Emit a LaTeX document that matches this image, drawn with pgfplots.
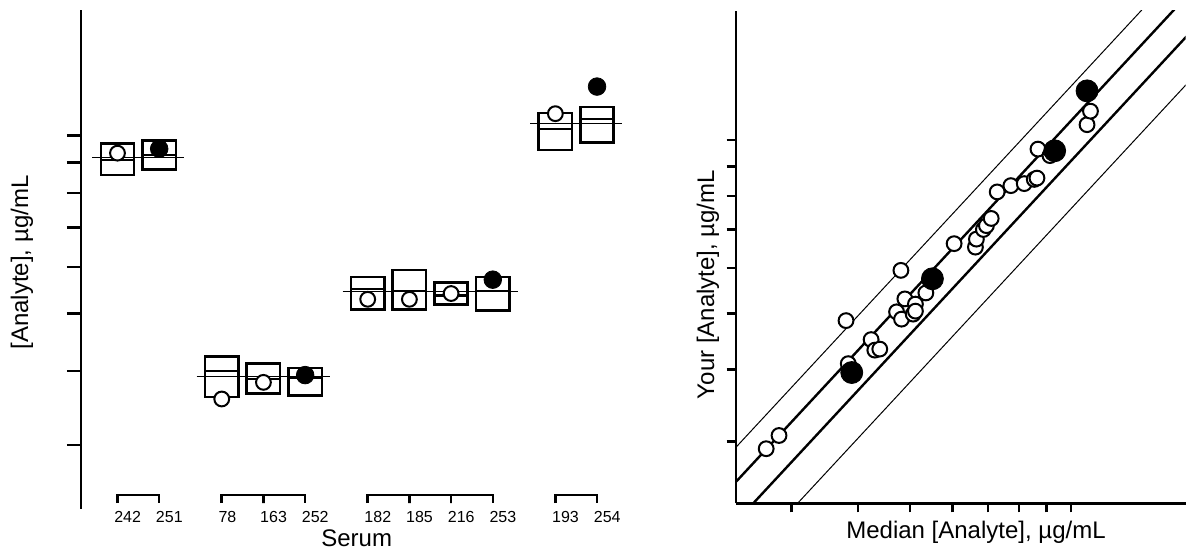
\documentclass[border=0pt]{standalone}
\usepackage{fontspec}
\setmainfont{Liberation Sans}
\usepackage{pgfplots}
\pgfplotsset{compat=1.18}

\begin{document}
\begin{tikzpicture}
\useasboundingbox (0,0) rectangle (593.5pt,276pt);

% ---- left: per-serum boxes ----
\begin{axis}[
  at={(40.5pt,21.5pt)}, anchor=south west,
  scale only axis, width=279.5pt, height=249.5pt,
  xmin=-0.875, xmax=12.53,
  ymode=log, ymin=23.4, ymax=163,
  axis y line*=left, axis x line*=bottom,
  x axis line style={draw=none},
  y axis line style={line width=1.3pt},
  ytick={30,40,50,60,70,80,90,100}, yticklabels={},
  yminorticks=false,
  ytick style={line width=1.3pt, black},
  tick align=outside, major tick length=7pt,
  xtick={0,1,2.5,3.5,4.5,6,7,8,9,10.5,11.5},
  xticklabels={242,251,78,163,252,182,185,216,253,193,254},
  xtick style={draw=none},
  xticklabel style={anchor=west, inner sep=0pt, xshift=-1.8pt, yshift=3pt,
    font=\fontsize{8}{9}\selectfont},
  clip=false,
  unbounded coords=jump,
  bx/.style={black, line width=1.3pt, line cap=rect},
]
% box: quartiles as rectangle, then the median bar
\addplot[bx] coordinates {(-0.4,85.8) (0.4,85.8) (0.4,96.9) (-0.4,96.9) (-0.4,85.8) (nan,nan) (-0.4,91.0) (0.4,91.0)};
\addplot[bx] coordinates {(0.6,87.6) (1.4,87.6) (1.4,98.1) (0.6,98.1) (0.6,87.6) (nan,nan) (0.6,92.7) (1.4,92.7)};
\addplot[bx] coordinates {(2.1,36.2) (2.9,36.2) (2.9,42.3) (2.1,42.3) (2.1,36.2) (nan,nan) (2.1,40.0) (2.9,40.0)};
\addplot[bx] coordinates {(3.1,36.7) (3.9,36.7) (3.9,41.2) (3.1,41.2) (3.1,36.7) (nan,nan) (3.1,38.8) (3.9,38.8)};
\addplot[bx] coordinates {(4.1,36.4) (4.9,36.4) (4.9,40.5) (4.1,40.5) (4.1,36.4) (nan,nan) (4.1,39.0) (4.9,39.0)};
\addplot[bx] coordinates {(5.6,50.8) (6.4,50.8) (6.4,57.7) (5.6,57.7) (5.6,50.8) (nan,nan) (5.6,55.1) (6.4,55.1)};
\addplot[bx] coordinates {(6.6,50.8) (7.4,50.8) (7.4,59.3) (6.6,59.3) (6.6,50.8) (nan,nan) (6.6,54.6) (7.4,54.6)};
\addplot[bx] coordinates {(7.6,51.9) (8.4,51.9) (8.4,56.5) (7.6,56.5) (7.6,51.9) (nan,nan) (7.6,53.7) (8.4,53.7)};
\addplot[bx] coordinates {(8.6,50.6) (9.4,50.6) (9.4,57.7) (8.6,57.7) (8.6,50.6) (nan,nan) (8.6,54.6) (9.4,54.6)};
\addplot[bx] coordinates {(10.1,94.6) (10.9,94.6) (10.9,109.1) (10.1,109.1) (10.1,94.6) (nan,nan) (10.1,102.6) (10.9,102.6)};
\addplot[bx] coordinates {(11.1,97.3) (11.9,97.3) (11.9,111.7) (11.1,111.7) (11.1,97.3) (nan,nan) (11.1,106.7) (11.9,106.7)};

% group medians
\addplot[black, line width=0.5pt] coordinates {(-0.6,91.9) (1.6,91.9)};
\addplot[black, line width=0.5pt] coordinates {(1.9,39.2) (5.1,39.2)};
\addplot[black, line width=0.5pt] coordinates {(5.4,54.6) (9.6,54.6)};
\addplot[black, line width=0.5pt] coordinates {(9.9,104.7) (12.1,104.7)};

% other labs / your lab
\addplot[only marks, mark=*, mark size=3.7pt, mark options={fill=white, draw=black, line width=1pt}]
  coordinates {(0,93.4) (2.5,35.9) (3.5,38.3) (6,52.9) (7,52.9) (8,54.1) (10.5,108.9)};
\addplot[only marks, mark=*, mark size=4.4pt, mark options={fill=black, draw=black}]
  coordinates {(1,95.0) (4.5,39.4) (9,57.1) (11.5,121.0)};

% serum group brackets
\addplot[black, line width=1.3pt] coordinates {(0,23.95) (0,24.7) (1,24.7) (1,23.95)};
\addplot[black, line width=1.3pt] coordinates {(2.5,23.95) (2.5,24.7) (3.5,24.7) (3.5,23.95) (3.5,24.7) (4.5,24.7) (4.5,23.95)};
\addplot[black, line width=1.3pt] coordinates {(6,23.95) (6,24.7) (7,24.7) (7,23.95) (7,24.7) (8,24.7) (8,23.95) (8,24.7) (9,24.7) (9,23.95)};
\addplot[black, line width=1.3pt] coordinates {(10.5,23.95) (10.5,24.7) (11.5,24.7) (11.5,23.95)};
\end{axis}

\node[rotate=90, font=\fontsize{12}{14}\selectfont] at (11pt,144.75pt) {[Analyte], µg/mL};
\node[font=\fontsize{12}{14}\selectfont] at (178.35pt,6.65pt) {Serum};

% ---- right: your lab vs median ----
\begin{axis}[
  at={(367.85pt,24.25pt)}, anchor=south west,
  scale only axis, width=225pt, height=246.45pt,
  xmode=log, ymode=log,
  xmin=23.6, xmax=164, ymin=23.4, ymax=167.9,
  axis x line*=bottom, axis y line*=left,
  axis line style={line width=1.2pt},
  xtick={30,40,50,60,70,80,90,100}, ytick={30,40,50,60,70,80,90,100},
  xticklabels={}, yticklabels={},
  xminorticks=false, yminorticks=false,
  tick align=outside, major tick length=4.5pt,
  tick style={line width=1.2pt, black},
]
\addplot[black, line width=0.5pt] coordinates {(20,24.8) (200,248)};
\addplot[black, line width=1.2pt] coordinates {(20,21.6) (200,216)};
\addplot[black, line width=1.2pt] coordinates {(20,18.4) (200,184)};
\addplot[black, line width=0.5pt] coordinates {(20,15.2) (200,152)};

\addplot[only marks, mark=*, mark size=3.7pt, mark options={fill=white, draw=black, line width=1pt}]
  coordinates {
  (26.91,29.13) (28.44,30.71) (37.96,48.61) (38.33,40.93) (42.29,45.06)
  (42.97,43.20) (43.90,43.38) (48.08,59.43) (47.19,50.35) (48.91,53.02)
  (48.21,48.90) (50.69,49.89) (51.18,51.93) (51.18,50.49) (53.54,54.30)
  (60.47,66.13) (66.28,65.21) (66.56,67.33) (68.60,69.99) (69.50,71.06)
  (70.95,73.14) (72.80,81.32) (77.23,83.39) (81.79,84.07) (85.40,85.49)
  (86.40,85.94) (86.77,96.50) (91.38,94.03) (107.2,106.4) (108.8,112.3)
  };
\addplot[only marks, mark=*, mark size=5.5pt, mark options={fill=black, draw=black}]
  coordinates {(38.91,39.51) (55.07,57.46) (93.25,95.85) (107.2,121.8)};
\end{axis}

\node[rotate=90, font=\fontsize{12}{14}\selectfont] at (354pt,133.75pt) {Your [Analyte], µg/mL};
\node[font=\fontsize{12}{14}\selectfont] at (488pt,10pt) {Median [Analyte], µg/mL};
\end{tikzpicture}
\end{document}
